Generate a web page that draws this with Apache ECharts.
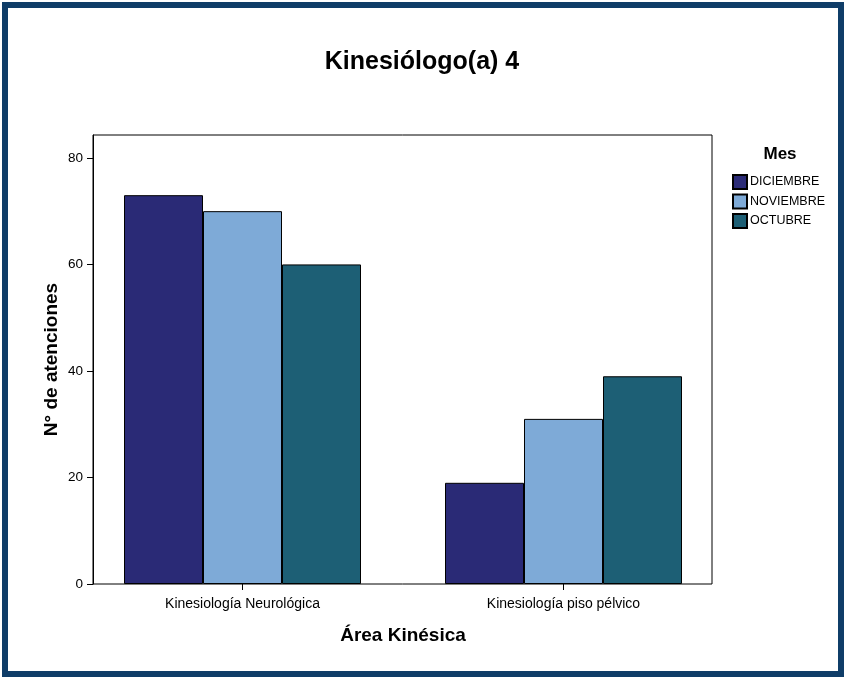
<!DOCTYPE html>
<html><head><meta charset="utf-8">
<script src="https://cdn.jsdelivr.net/npm/echarts@6/dist/echarts.min.js"></script>
<style>
html,body{margin:0;padding:0;background:#fff;}
#frame{position:absolute;left:2px;top:2px;width:842px;height:675px;border:6px solid #0f3d68;box-sizing:border-box;}
#c{position:absolute;left:0;top:0;width:844px;height:677px;}
</style></head>
<body>
<div id="frame"></div>
<div id="c"></div>
<script>
const categories = ['Kinesiología Neurológica', 'Kinesiología piso pélvico'];
const seriesNames = ['DICIEMBRE', 'NOVIEMBRE', 'OCTUBRE'];
const diciembre = [73, 19];
const noviembre = [70, 31];
const octubre = [60, 39];
const yTicks = [0, 20, 40, 60, 80];

const colors = ['#2a2a76', '#7eaad7', '#1d5f75'];
const values = [diciembre, noviembre, octubre];
const font = '"Liberation Sans", Arial, sans-serif';
const yMax = 84.3;

const chart = echarts.init(document.getElementById('c'), null, {renderer: 'canvas'});
chart.setOption({
  backgroundColor: 'transparent',
  animation: false,
  title: [
    {text: 'Kinesiólogo(a) 4', left: 422, top: 50, textAlign: 'center', padding: 0,
     textStyle: {fontFamily: font, fontWeight: 'bold', fontSize: 25, color: '#000'}},
    {text: 'Mes', left: 780, top: 146, textAlign: 'center', padding: 0,
     textStyle: {fontFamily: font, fontWeight: 'bold', fontSize: 17, color: '#000'}}
  ],
  legend: {
    orient: 'vertical', left: 732, top: 174, itemWidth: 14, itemHeight: 14, itemGap: 3.5,
    padding: 0, icon: 'rect', data: seriesNames,
    textStyle: {fontFamily: font, fontSize: 12.5, color: '#000', lineHeight: 14, padding: [0,0,0,-2]}
  },
  grid: [
    {left: 82, top: 135, width: 642, height: 449, show: false},
    {left: 93, top: 135, width: 619, height: 449, show: true, borderColor: '#000', borderWidth: 1, backgroundColor: 'transparent'}
  ],
  xAxis: [
    {type: 'category', gridIndex: 0, data: categories,
     axisLine: {show: false},
     axisTick: {show: true, alignWithLabel: true, length: 6, lineStyle: {color: '#000'}},
     axisLabel: {fontFamily: font, fontSize: 14, color: '#000', margin: 13},
     name: 'Área Kinésica', nameLocation: 'middle', nameGap: 42,
     nameTextStyle: {fontFamily: font, fontWeight: 'bold', fontSize: 19, color: '#000'}},
    {type: 'value', gridIndex: 1, show: false, min: 0, max: 1}
  ],
  yAxis: [
    {type: 'value', gridIndex: 0, min: 0, max: yMax, show: false},
    {type: 'value', gridIndex: 1, min: 0, max: yMax, interval: 20,
     axisLine: {show: true, lineStyle: {color: '#000'}},
     axisTick: {show: true, length: 6, customValues: yTicks, lineStyle: {color: '#000'}},
     splitLine: {show: false},
     axisLabel: {fontFamily: font, fontSize: 13.5, color: '#000', margin: 10, customValues: yTicks},
     name: 'N° de atenciones', nameLocation: 'middle', nameGap: 32, nameRotate: 90,
     nameMoveOverlap: false,
     nameTextStyle: {fontFamily: font, fontWeight: 'bold', fontSize: 19, color: '#000'}}
  ],
  series: seriesNames.map((n, i) => ({
    name: n, type: 'bar', xAxisIndex: 0, yAxisIndex: 0,
    data: values[i], barWidth: 79, barGap: '0%',
    itemStyle: {color: colors[i], borderColor: '#000', borderWidth: 1}
  }))
});
</script>
</body></html>
